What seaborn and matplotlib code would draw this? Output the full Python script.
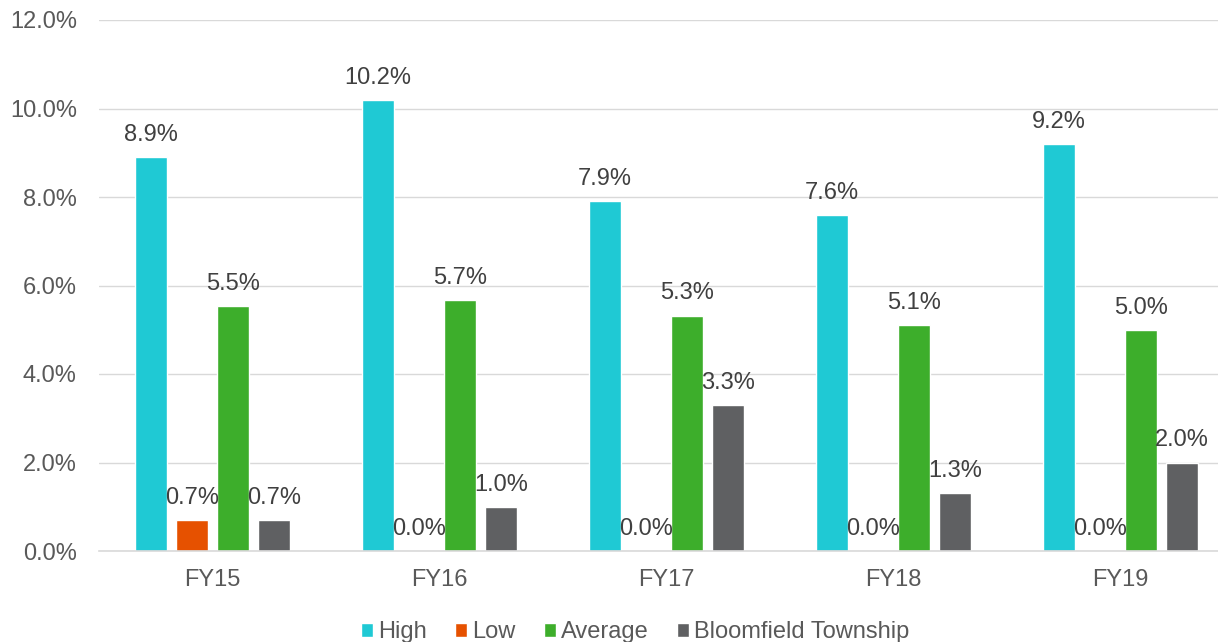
import matplotlib
matplotlib.use("Agg")
import matplotlib.pyplot as plt
import seaborn as sns
import pandas as pd
from matplotlib.ticker import FuncFormatter, MultipleLocator

categories = ["FY15", "FY16", "FY17", "FY18", "FY19"]
series = ["High", "Low", "Average", "Bloomfield Township"]
high = [8.9, 10.2, 7.9, 7.6, 9.2]
low = [0.7, 0.0, 0.0, 0.0, 0.0]
average = [5.54, 5.68, 5.32, 5.10, 4.99]
bloomfield = [0.7, 1.0, 3.3, 1.3, 2.0]
colors = ["#1FC9D4", "#E65100", "#3DAE2B", "#5F6062"]

rows = []
for name, vals in zip(series, [high, low, average, bloomfield]):
    for c, v in zip(categories, vals):
        rows.append({"FY": c, "Series": name, "Value": v})
df = pd.DataFrame(rows)

sns.set_theme(style="white")
plt.rcParams["font.family"] = ["Liberation Sans", "DejaVu Sans"]

fig = plt.figure(figsize=(12.18, 6.42), dpi=100)
ax_left = 99 / 1218
ax_w = 1135 / 1218
ax = fig.add_axes([ax_left, 1 - 551 / 642, ax_w, (551 - 20) / 642])

sns.barplot(data=df, x="FY", y="Value", hue="Series", palette=colors,
            width=0.72, gap=0.22, ax=ax, legend=True, saturation=1)

for cont in ax.containers:
    ax.bar_label(cont, labels=[f"{v:.1f}%" for v in cont.datavalues],
                 padding=8, fontsize=17, color="#404040")

ax.set_ylim(0, 12)
ax.yaxis.set_major_locator(MultipleLocator(2))
ax.yaxis.set_major_formatter(FuncFormatter(lambda v, p: f"{v:.1f}%"))
ax.grid(axis="y", color="#D9D9D9", linewidth=1)
ax.set_axisbelow(True)
for s in ["top", "right", "left"]:
    ax.spines[s].set_visible(False)
ax.spines["bottom"].set_color("#D9D9D9")
ax.spines["bottom"].set_linewidth(1.2)
ax.set_xlabel("")
ax.set_ylabel("")
ax.tick_params(axis="both", length=0, labelcolor="#595959")
ax.tick_params(axis="x", pad=13, labelsize=17)
ax.tick_params(axis="y", pad=16, labelsize=17)

handles, labels = ax.get_legend_handles_labels()
leg_x = (635 / 1218 - ax_left) / ax_w
ax.legend(handles, labels, loc="center", bbox_to_anchor=(leg_x, -0.153),
          ncol=4, frameon=False, fontsize=17, handlelength=0.52, handleheight=0.52,
          handletextpad=0.2, columnspacing=1.2, labelcolor="#595959")

fig.savefig("out.png", dpi=100)
